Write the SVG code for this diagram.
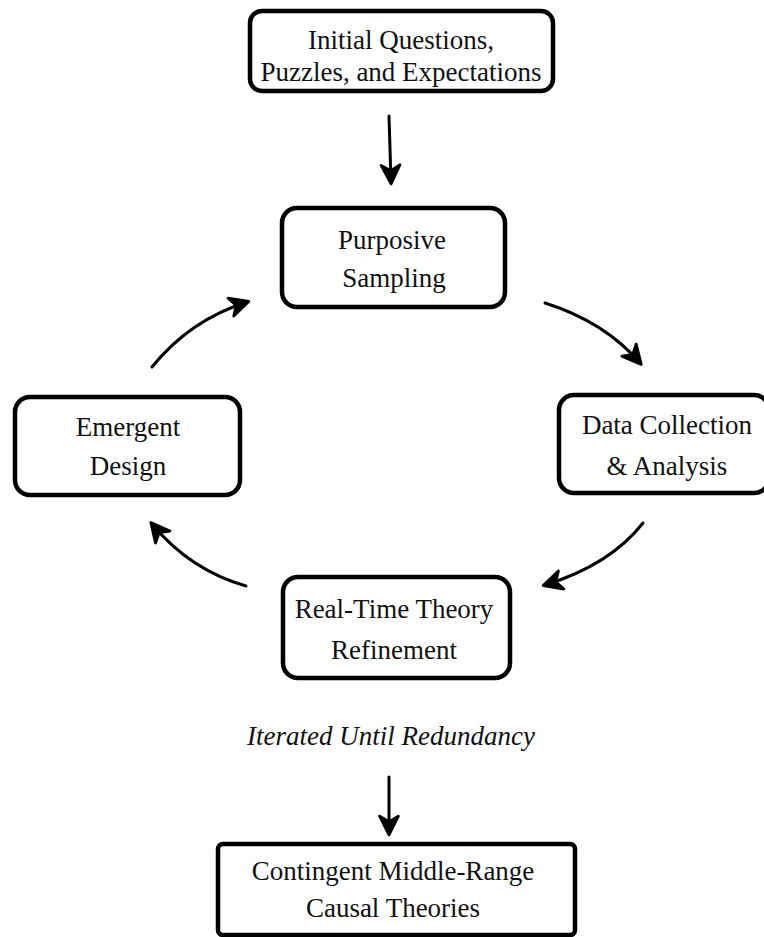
<svg xmlns="http://www.w3.org/2000/svg" width="764" height="937" viewBox="0 0 764 937">
<style>
.box{fill:#fff;stroke:#000;stroke-width:4.5}
.t{font-family:"Liberation Serif","Times New Roman",serif;font-size:27px;fill:#111;text-anchor:middle}
.it{font-style:italic}
.c{fill:none;stroke:#000;stroke-width:3;stroke-linecap:round}
</style>
<defs>
<marker id="a" viewBox="0 0 12 12" refX="10" refY="6" markerWidth="7.5" markerHeight="7.5" orient="auto">
<path d="M1,1 L11,6 L1,11 L4,6 Z" fill="#000" stroke="#000" stroke-width="1.5" stroke-linejoin="round"/>
</marker>
</defs>
<rect width="764" height="937" fill="#fff"/>
<g id="connectors">
<path class="c" d="M389,116 L391,182" marker-end="url(#a)"/>
<path class="c" d="M545,303 Q605,322 640,363" marker-end="url(#a)"/>
<path class="c" d="M643,523 Q610,565 545,585" marker-end="url(#a)"/>
<path class="c" d="M246,586 Q190,570 152,524" marker-end="url(#a)"/>
<path class="c" d="M152,367 Q190,320 247,302" marker-end="url(#a)"/>
<path class="c" d="M389,777 L389,833" marker-end="url(#a)"/>
</g>
<g id="initial">
<rect class="box" x="250" y="11" width="303" height="80" rx="12"/>
<text class="t" x="401" y="49">Initial Questions,</text>
<text class="t" x="401" y="81">Puzzles, and Expectations</text>
</g>
<g id="purposive">
<rect class="box" x="282" y="208" width="223" height="99" rx="15"/>
<text class="t" x="392" y="249">Purposive</text>
<text class="t" x="394" y="287">Sampling</text>
</g>
<g id="emergent">
<rect class="box" x="15" y="397" width="225" height="98" rx="15"/>
<text class="t" x="128" y="436">Emergent</text>
<text class="t" x="128" y="475">Design</text>
</g>
<g id="data">
<rect class="box" x="559" y="395" width="210" height="98" rx="15"/>
<text class="t" x="667" y="434">Data Collection</text>
<text class="t" x="667" y="475">&amp; Analysis</text>
</g>
<g id="realtime">
<rect class="box" x="283" y="577" width="227" height="101" rx="15"/>
<text class="t" x="394" y="618">Real-Time Theory</text>
<text class="t" x="394" y="659">Refinement</text>
</g>
<g id="iterated">
<text class="t it" x="391" y="745">Iterated Until Redundancy</text>
</g>
<g id="contingent">
<rect class="box" x="218" y="844" width="357" height="91" rx="5"/>
<text class="t" x="393" y="880">Contingent Middle-Range</text>
<text class="t" x="393" y="917">Causal Theories</text>
</g>
</svg>
